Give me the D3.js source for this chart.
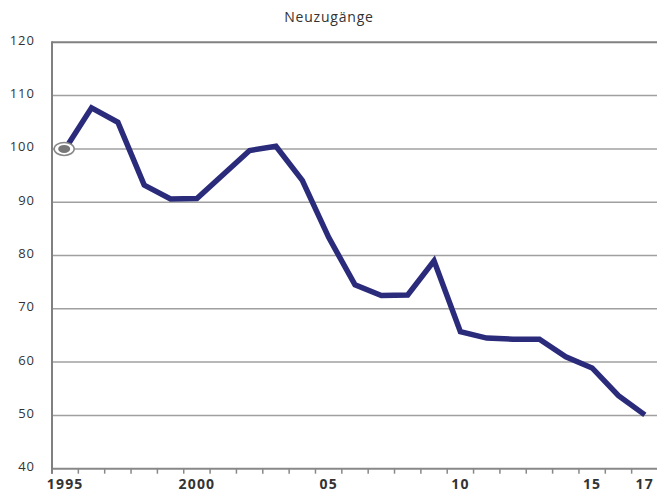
<!DOCTYPE html>
<html>
<head>
<meta charset="utf-8">
<script src="https://cdn.jsdelivr.net/npm/d3@7"></script>
<style>
  body { margin: 0; background: #fff; }
  text { font-family: "Open Sans", "DejaVu Sans", sans-serif; fill: #333; }
</style>
</head>
<body>
<div id="chart-area"></div>
<script>
// Data
var years = d3.range(1995, 2018);
var values = [100, 107.7, 105.0, 93.2, 90.6, 90.7, 95.2, 99.7, 100.5, 94.1,
              83.4, 74.5, 72.5, 72.6, 79.0, 65.7, 64.5, 64.3, 64.3, 61.0,
              58.9, 53.7, 50.1];
var xTickLabels = { 1995: "1995", 2000: "2000", 2005: "05", 2010: "10", 2015: "15", 2017: "17" };
var yTicks = [40, 50, 60, 70, 80, 90, 100, 110, 120];
var title = "Neuzugänge";

var data = years.map(function(yr, i) { return { year: yr, value: values[i] }; });

var W = 657, H = 495;
var plot = { left: 52, right: 658, top: 42.3, bottom: 468.7 };

var svg = d3.select("#chart-area").append("svg")
  .attr("width", W)
  .attr("height", H);

// Scales
var x = d3.scaleBand()
  .domain(years)
  .range([plot.left, plot.right]);

var y = d3.scaleLinear()
  .domain([40, 120])
  .range([plot.bottom, plot.top]);

// Title
svg.append("text")
  .attr("x", 329)
  .attr("y", 22)
  .attr("text-anchor", "middle")
  .attr("font-size", "14px")
  .attr("letter-spacing", "0.8px")
  .text(title);

// Gridlines
svg.append("g")
  .selectAll("line")
  .data(yTicks.filter(function(d) { return d > 40; }))
  .enter()
  .append("line")
    .attr("x1", plot.left)
    .attr("x2", plot.right)
    .attr("y1", function(d) { return y(d); })
    .attr("y2", function(d) { return y(d); })
    .attr("stroke", function(d) { return d == 120 ? "#808080" : "#a0a0a0"; })
    .attr("stroke-width", function(d) { return d == 120 ? 2 : 1.5; });

// Y labels
svg.append("g")
  .selectAll("text")
  .data(yTicks)
  .enter()
  .append("text")
    .attr("x", 35)
    .attr("y", function(d) { return y(d) - 1; })
    .attr("text-anchor", "end")
    .attr("dominant-baseline", "middle")
    .attr("font-size", "13px")
    .attr("letter-spacing", "1px")
    .text(function(d) { return d; });

// X axis
var xAxisGroup = svg.append("g")
  .attr("transform", "translate(0," + plot.bottom + ")");

xAxisGroup.append("line")
  .attr("x1", plot.left).attr("x2", plot.right)
  .attr("stroke", "#888").attr("stroke-width", 2);

xAxisGroup.selectAll(".tick")
  .data(years)
  .enter()
  .append("line")
    .attr("class", "tick")
    .attr("x1", function(d) { return x(d); })
    .attr("x2", function(d) { return x(d); })
    .attr("y1", 0)
    .attr("y2", 5)
    .attr("stroke", "#888")
    .attr("stroke-width", 1.5);

xAxisGroup.selectAll(".xlabel")
  .data(years.filter(function(d) { return xTickLabels[d]; }))
  .enter()
  .append("text")
    .attr("class", "xlabel")
    .attr("x", function(d) { return x(d) + x.bandwidth() / 2; })
    .attr("y", 20)
    .attr("text-anchor", "middle")
    .attr("font-size", "14px")
    .attr("font-weight", "bold")
    .attr("letter-spacing", "1.2px")
    .text(function(d) { return xTickLabels[d]; });

// Y axis line
svg.append("line")
  .attr("x1", plot.left).attr("x2", plot.left)
  .attr("y1", plot.top - 1).attr("y2", plot.bottom + 5)
  .attr("stroke", "#808080")
  .attr("stroke-width", 2);

// Line
var line = d3.line()
  .x(function(d) { return x(d.year) + x.bandwidth() / 2; })
  .y(function(d) { return y(d.value); });

svg.append("path")
  .datum(data)
  .attr("fill", "none")
  .attr("stroke", "#2b2b7b")
  .attr("stroke-width", 5.5)
  .attr("stroke-linejoin", "miter")
  .attr("d", line);

// Base year marker
var base = data[0];
svg.append("ellipse")
  .attr("cx", x(base.year) + x.bandwidth() / 2 - 1)
  .attr("cy", y(base.value))
  .attr("rx", 10)
  .attr("ry", 6.5)
  .attr("fill", "#fff")
  .attr("stroke", "#888")
  .attr("stroke-width", 1.5);

svg.append("ellipse")
  .attr("cx", x(base.year) + x.bandwidth() / 2 - 1)
  .attr("cy", y(base.value))
  .attr("rx", 6)
  .attr("ry", 4)
  .attr("fill", "#777");
</script>
</body>
</html>
